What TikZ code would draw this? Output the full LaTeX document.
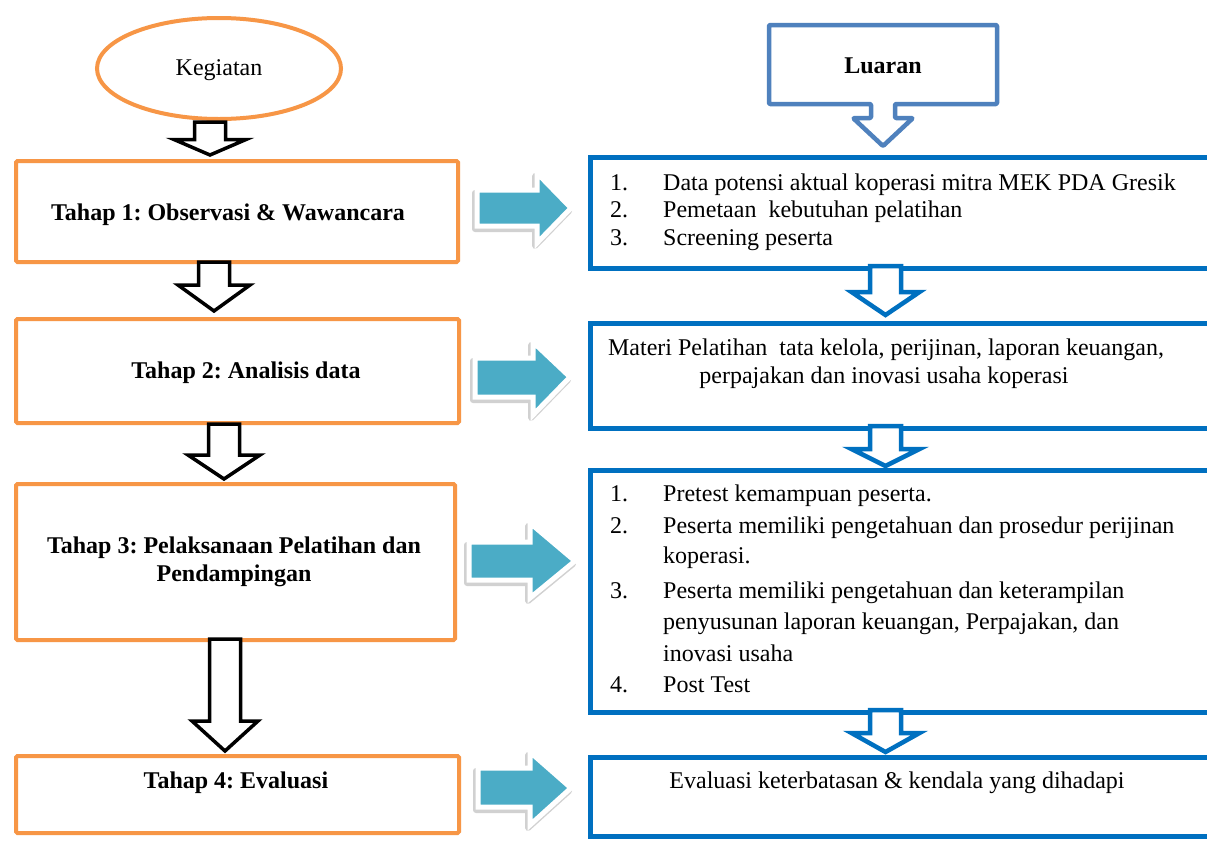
\documentclass[tikz,border=0pt]{standalone}
\usepackage{fontspec}
\setmainfont{Liberation Serif}
\usetikzlibrary{shapes.geometric}
\frenchspacing
\definecolor{orng}{HTML}{F79646}
\definecolor{dblue}{HTML}{0070C0}
\definecolor{sblue}{HTML}{4F81BD}
\definecolor{tealfill}{HTML}{4BACC6}
\newcommand{\myDArrow}[7]{% style, cx, top, sw, hw, yhead, tip
  \draw[#1] ({#2-#4},#3) -- ({#2+#4},#3) -- ({#2+#4},#6) -- ({#2+#5},#6) -- (#2,#7) -- ({#2-#5},#6) -- ({#2-#4},#6) -- cycle;}
\newcommand{\myRArrow}[8]{% x0, x1, xtip, ys1, ys2, yh1, yh2, ytip
  \path[tealarrow] (#1,#4) -- (#2,#4) -- (#2,#6) -- (#3,#8) -- (#2,#7) -- (#2,#5) -- (#1,#5) -- cycle;}
\tikzset{
  stagebox/.style={draw=orng, line width=4pt, rounded corners=1.5pt, inner sep=0pt, anchor=north west},
  outbox/.style={draw=dblue, line width=5pt, inner sep=0pt, anchor=north west},
  blkarrow/.style={draw=black, line width=3.5pt, fill=white, line join=miter},
  bluearrow/.style={draw=dblue, line width=4.5pt, fill=white, line join=miter},
  tealarrow/.style={fill=tealfill, draw=white, line width=5pt, line join=miter,
    preaction={draw=black!18, fill=black!18, line width=6pt, line join=round,
      transform canvas={xshift=-2pt, yshift=-3pt}}},
  txt/.style={font=\fontsize{24}{27.6}\selectfont, inner sep=0pt},
  btxt/.style={font=\fontsize{24}{27.6}\selectfont\bfseries, inner sep=0pt},
}
\begin{document}
\begin{tikzpicture}[x=1pt,y=-1pt]
\useasboundingbox (0,0) rectangle (1207,841);
\clip (0,0) rectangle (1207,841);
\fill[white] (0,0) rectangle (1207,841);

% ---- left column ----
\node[draw=orng, line width=4pt, ellipse, minimum width=244pt, minimum height=101pt, inner sep=0pt] (keg) at (219,68.5) {};
\node[txt, anchor=base] (kegt) at (219,75) {Kegiatan};

\node[stagebox, minimum width=442pt, minimum height=101pt] (t1) at (14,159) {};
\node[stagebox, minimum width=443pt, minimum height=104pt] (t2) at (14,317) {};
\node[stagebox, minimum width=439pt, minimum height=156pt] (t3) at (14,482) {};
\node[stagebox, minimum width=443pt, minimum height=77pt] (t4) at (14,754) {};

\node[btxt, anchor=base] (t1t) at (228,220) {Tahap 1: Observasi \& Wawancara};
\node[btxt, anchor=base] (t2t) at (246,378) {Tahap 2: Analisis data};
\node[btxt, anchor=base] (t3ta) at (234,553) {Tahap 3: Pelaksanaan Pelatihan dan};
\node[btxt, anchor=base] (t3tb) at (234,581) {Pendampingan};
\node[btxt, anchor=base] (t4t) at (236,788) {Tahap 4: Evaluasi};

% black outline arrows
\myDArrow{blkarrow}{210}{122}{15.5}{36}{139.5}{155}
\myDArrow{blkarrow}{214}{262}{15.5}{36}{285}{311}
\myDArrow{blkarrow}{224}{424}{15.5}{36}{455}{479}
\myDArrow{blkarrow}{225}{639}{15.5}{33}{721}{751}

% ---- right column ----
\draw[draw=sblue, line width=4.5pt, line join=round, rounded corners=1pt]
  (769,25) -- (997,25) -- (997,104) -- (895,104) -- (895,118) -- (913,118) -- (883,146)
  -- (853,118) -- (871,118) -- (871,104) -- (769,104) -- cycle;
\node[btxt, anchor=base] (lua) at (883,73) {Luaran};

\node[outbox, minimum width=650pt, minimum height=111pt] (o1) at (588,155) {};
\node[outbox, minimum width=650pt, minimum height=105pt] (o2) at (588,320.5) {};
\node[outbox, minimum width=650pt, minimum height=242pt] (o3) at (588,467.5) {};
\node[outbox, minimum width=650pt, minimum height=79pt] (o4) at (588,754.5) {};

\myDArrow{bluearrow}{885.5}{266}{15.5}{34}{292}{315}
\myDArrow{bluearrow}{885.5}{426}{15.5}{34}{449}{466}
\myDArrow{bluearrow}{885.5}{710}{15.5}{34}{733}{752}

% box 1 list
\node[txt, anchor=base west] (n11) at (610,190) {1.};
\node[txt, anchor=base west] (l11) at (663,190) {Data potensi aktual koperasi mitra MEK PDA Gresik};
\node[txt, anchor=base west] (n12) at (610,217) {2.};
\node[txt, anchor=base west] (l12) at (663,217) {Pemetaan\ \ kebutuhan pelatihan};
\node[txt, anchor=base west] (n13) at (610,245) {3.};
\node[txt, anchor=base west] (l13) at (663,245) {Screening peserta};

% box 2
\node[txt, anchor=base] (l21) at (886,355) {Materi Pelatihan\ \ tata kelola, perijinan, laporan keuangan,};
\node[txt, anchor=base] (l22) at (884,383) {perpajakan dan inovasi usaha koperasi};

% box 3 list
\node[txt, anchor=base west] (n31) at (610,501) {1.};
\node[txt, anchor=base west] (l31) at (663,501) {Pretest kemampuan peserta.};
\node[txt, anchor=base west] (n32) at (610,533) {2.};
\node[txt, anchor=base west] (l32) at (663,533) {Peserta memiliki pengetahuan dan prosedur perijinan};
\node[txt, anchor=base west] (l33) at (663,563) {koperasi.};
\node[txt, anchor=base west] (n33) at (610,598) {3.};
\node[txt, anchor=base west] (l34) at (663,598) {Peserta memiliki pengetahuan dan keterampilan};
\node[txt, anchor=base west] (l35) at (663,629) {penyusunan laporan keuangan, Perpajakan, dan};
\node[txt, anchor=base west] (l36) at (663,661) {inovasi usaha};
\node[txt, anchor=base west] (n34) at (610,692) {4.};
\node[txt, anchor=base west] (l37) at (663,692) {Post Test};

% box 4
\node[txt, anchor=base] (l41) at (897,788) {Evaluasi keterbatasan \& kendala yang dihadapi};

% teal block arrows
\myRArrow{477}{537}{571}{190}{226}{173}{243}{208}
\myRArrow{475}{533}{570}{358}{397}{342}{415}{377}
\myRArrow{469}{530}{575}{542}{580}{523}{598}{561}
\myRArrow{478}{530}{571}{768}{807}{752}{825}{788}
\end{tikzpicture}
\end{document}
